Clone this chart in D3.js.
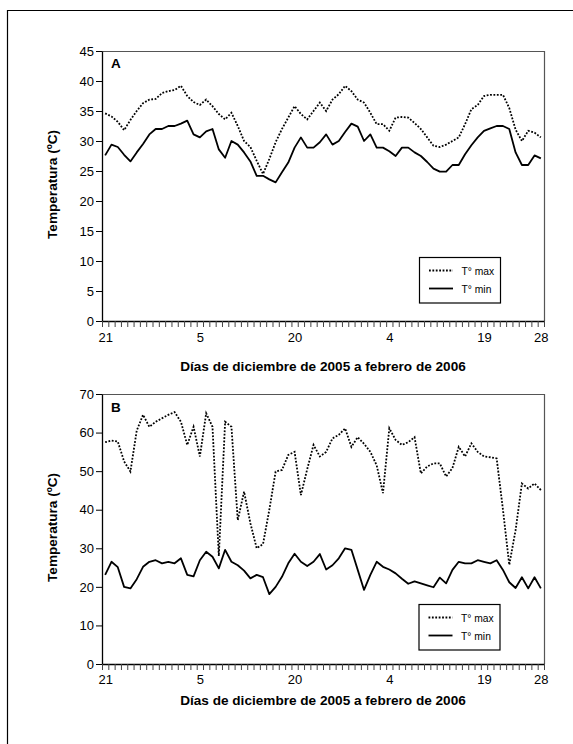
<!DOCTYPE html>
<html><head><meta charset="utf-8">
<script src="https://cdn.jsdelivr.net/npm/d3@7"></script>
<style>
body{margin:0;background:#fff}
svg{display:block}
text{font-family:"Liberation Sans",Arial,Helvetica,sans-serif;fill:#000}
</style>
</head><body>
<svg id="c" width="573" height="744"></svg>
<script>
// Days from 21 Dec 2005 to 28 Feb 2006
const dias = [21,22,23,24,25,26,27,28,29,30,31,
  1,2,3,4,5,6,7,8,9,10,11,12,13,14,15,16,17,18,19,20,21,22,23,24,25,26,27,28,29,30,31,
  1,2,3,4,5,6,7,8,9,10,11,12,13,14,15,16,17,18,19,20,21,22,23,24,25,26,27,28];
const tickIdx = [0,15,30,45,60,69];

const tmaxA = [34.6,34.1,33.2,31.8,33.5,35.0,36.3,36.9,37.0,38.0,
  38.3,38.5,39.2,37.5,36.5,36.0,36.9,35.8,34.5,33.6,
  34.7,32.5,30.0,29.0,26.7,24.5,27.0,29.8,32.0,33.9,
  35.8,34.5,33.6,35.0,36.4,35.0,36.9,37.8,39.2,38.3,
  36.9,36.4,34.7,32.8,32.8,31.7,33.9,34.0,33.9,33.0,
  32.0,30.6,29.2,29.0,29.4,30.0,30.6,32.8,35.3,36.0,
  37.5,37.7,37.7,37.7,35.5,31.9,30.0,31.7,31.4,30.6];
const tminA = [27.6,29.4,29.0,27.7,26.6,28.1,29.5,31.1,32.0,32.0,
  32.5,32.5,32.9,33.4,31.1,30.6,31.6,32.0,28.6,27.2,
  30.0,29.4,28.1,26.6,24.2,24.2,23.6,23.1,24.8,26.4,
  28.9,30.6,28.9,28.9,29.8,31.1,29.4,30.0,31.5,32.9,
  32.4,30.0,31.1,28.9,28.9,28.3,27.5,28.9,28.9,28.1,
  27.5,26.5,25.4,24.9,24.9,26.0,26.0,27.8,29.3,30.6,
  31.7,32.1,32.5,32.5,32.0,28.1,26.0,26.0,27.6,27.1];
const tmaxB = [57.5,57.9,57.7,52.5,49.9,60.5,64.6,61.5,62.8,63.7,
  64.6,65.3,62.8,56.8,61.5,53.8,65.0,61.5,28.0,62.8,
  61.5,37.3,44.7,36.5,30.0,31.1,40.0,49.9,50.3,54.2,
  55.0,43.8,50.5,56.8,53.8,55.0,58.5,59.4,61.1,56.3,
  58.8,57.1,55.0,51.5,44.3,61.1,58.1,56.8,57.5,58.8,
  49.4,51.2,52.0,52.0,48.6,50.8,56.3,53.8,57.2,55.0,
  53.8,53.6,53.3,40.0,25.7,34.7,46.8,45.5,46.8,45.1];
const tminB = [23.1,26.5,25.1,20.0,19.6,22.0,25.2,26.5,26.9,26.1,
  26.5,26.1,27.4,23.1,22.7,26.9,29.1,27.8,24.8,29.6,
  26.5,25.6,24.2,22.2,23.1,22.5,18.1,20.0,22.6,26.1,
  28.6,26.5,25.4,26.5,28.5,24.5,25.6,27.4,30.0,29.6,
  24.4,19.2,23.1,26.5,25.2,24.5,23.5,22.1,20.8,21.4,
  20.9,20.4,19.9,22.4,20.9,24.4,26.5,26.1,26.1,26.9,
  26.5,26.1,26.9,24.4,21.2,19.7,22.5,19.6,22.5,19.6];

const yTicksA = [0,5,10,15,20,25,30,35,40,45];
const yTicksB = [0,10,20,30,40,50,60,70];
const seriesNames = ["T° max","T° min"];
const xTitle = "Días de diciembre de 2005 a febrero de 2006";
const yTitle = "Temperatura (ºC)";

const svg = d3.select("#c");
svg.append("rect").attr("width",573).attr("height",744).attr("fill","#fff");
svg.append("path").attr("d","M7.5,744V10.5H573").attr("fill","none").attr("stroke","#000").attr("stroke-width",1.2);

const DOT = "1.8,1.6";

function panel(cfg){
  const left=102, right=544;
  const {top,bottom,ymax,yticks,tmax,tmin,letter,letterY,lg,titleY,labPad} = cfg;
  const x = d3.scaleLinear().domain([0,dias.length]).range([left,right]);
  const y = d3.scaleLinear().domain([0,ymax]).range([bottom,top]);
  const g = svg.append("g");

  g.append("path").attr("d",`M${left},${top+0.5}H${right+0.5}V${bottom}`)
    .attr("fill","none").attr("stroke","#555").attr("stroke-width",1.2);

  const ya = g.append("g").attr("transform",`translate(${left},0)`)
    .call(d3.axisLeft(y).tickValues(yticks).tickSize(6).tickPadding(2).tickSizeOuter(0));
  ya.selectAll("text").attr("font-size",13).style("font-family",'"Liberation Sans",Arial,sans-serif');
  ya.select(".domain").attr("stroke","#000").attr("stroke-width",1.3);

  const xa = g.append("g").attr("transform",`translate(0,${bottom})`)
    .call(d3.axisBottom(x).tickValues(d3.range(dias.length+1)).tickSize(6).tickFormat("").tickSizeOuter(0));
  xa.select(".domain").attr("stroke","#000").attr("stroke-width",1.3);
  xa.selectAll(".tick line").attr("stroke","#444");

  const xl = g.append("g").attr("transform",`translate(0,${bottom})`)
    .call(d3.axisBottom(x).tickValues(tickIdx.map(i=>i+0.5)).tickFormat((d,k)=>dias[tickIdx[k]]).tickSize(0).tickPadding(labPad));
  xl.select(".domain").remove();
  xl.selectAll("text").attr("font-size",13).style("font-family",'"Liberation Sans",Arial,sans-serif');

  const line = d3.line().x((d,i)=>x(i+0.5)).y(d=>y(d));
  g.append("path").datum(tmax).attr("d",line).attr("fill","none").attr("stroke","#000")
    .attr("stroke-width",1.8).attr("stroke-dasharray",DOT);
  g.append("path").datum(tmin).attr("d",line).attr("fill","none").attr("stroke","#000")
    .attr("stroke-width",1.8).attr("stroke-linejoin","round");

  g.append("text").attr("x",111).attr("y",letterY).attr("font-size",13.5).attr("font-weight","bold").text(letter);

  // legend
  g.append("rect").attr("x",lg.x+0.5).attr("y",lg.y+0.5).attr("width",81).attr("height",45.5)
    .attr("fill","#fff").attr("stroke","#000").attr("stroke-width",1.2);
  [0,1].forEach(k=>{
    const ly = lg.y + 13.5 + k*18;
    g.append("line").attr("x1",lg.x+10).attr("x2",lg.x+34).attr("y1",ly).attr("y2",ly)
      .attr("stroke","#000").attr("stroke-width",1.8).attr("stroke-dasharray",k===0?DOT:null);
    g.append("text").attr("x",lg.x+42.5).attr("y",ly+4).attr("font-size",10.3).text(seriesNames[k]);
  });

  g.append("text").attr("x",(left+right)/2).attr("y",titleY).attr("text-anchor","middle")
    .attr("font-size",13.6).attr("font-weight","bold").text(xTitle);
  g.append("text").attr("transform",`translate(56.5,${(top+bottom)/2-1.5}) rotate(-90)`)
    .attr("text-anchor","middle").attr("font-size",13.6).attr("font-weight","bold").text(yTitle);
}

panel({top:51,bottom:321,ymax:45,yticks:yTicksA,tmax:tmaxA,tmin:tminA,letter:"A",letterY:68.3,
  lg:{x:419,y:257},titleY:370.5,labPad:12});
panel({top:394,bottom:664,ymax:70,yticks:yTicksB,tmax:tmaxB,tmin:tminB,letter:"B",letterY:412.3,
  lg:{x:418.5,y:604},titleY:705,labPad:10.5});
</script>
</body></html>
